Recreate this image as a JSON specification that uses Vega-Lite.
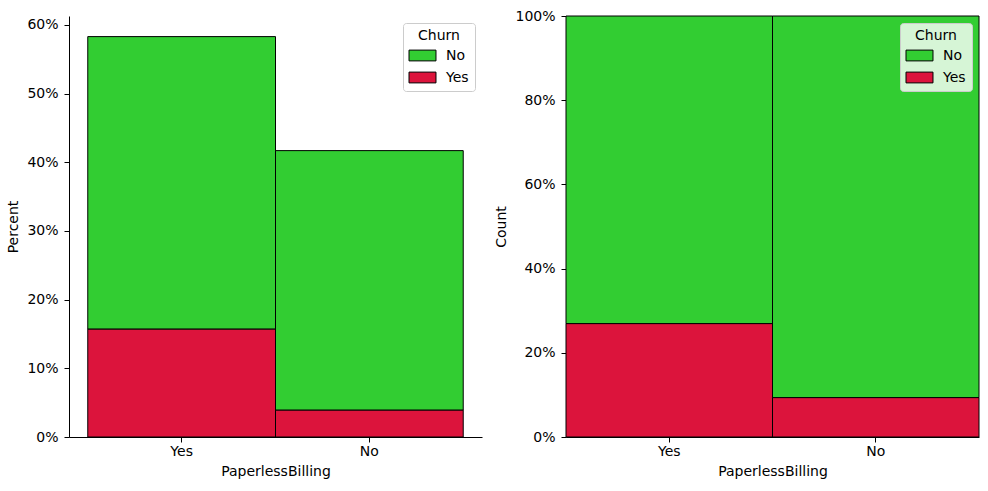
{
  "$schema": "https://vega.github.io/schema/vega-lite/v6.json",
  "autosize": {"type": "pad"},
  "padding": {"left": 6, "top": 9, "right": 9, "bottom": 5},
  "bounds": "flush",
  "spacing": 84,
  "data": {"values": [
    {"PaperlessBilling": "Yes", "Churn": "No", "share": 0.426},
    {"PaperlessBilling": "Yes", "Churn": "Yes", "share": 0.157},
    {"PaperlessBilling": "No", "Churn": "No", "share": 0.378},
    {"PaperlessBilling": "No", "Churn": "Yes", "share": 0.039}
  ]},
  "hconcat": [
    {
      "width": 413,
      "height": 421,
      "mark": {"type": "bar", "stroke": "black", "strokeWidth": 1, "opacity": 1},
      "encoding": {
        "x": {"field": "PaperlessBilling", "type": "nominal", "sort": ["Yes", "No"],
              "scale": {"paddingInner": 0, "paddingOuter": 0.1},
              "axis": {"title": "PaperlessBilling", "labelAngle": 0, "labelPadding": 2}},
        "y": {"field": "share", "type": "quantitative", "aggregate": "sum", "stack": "zero",
              "scale": {"domain": [0, 0.613], "nice": false},
              "axis": {"title": "Percent", "format": ".0%", "values": [0, 0.1, 0.2, 0.3, 0.4, 0.5, 0.6]}},
        "color": {"field": "Churn", "type": "nominal",
                  "scale": {"domain": ["No", "Yes"], "range": ["#32CD32", "#DC143C"]},
                  "legend": {"title": "Churn", "orient": "top-right", "offset": 7,
                             "fillColor": "rgba(255,255,255,0.8)"}},
        "order": {"field": "Churn", "sort": "descending"}
      }
    },
    {
      "width": 413,
      "height": 421,
      "mark": {"type": "bar", "stroke": "black", "strokeWidth": 1, "opacity": 1},
      "encoding": {
        "x": {"field": "PaperlessBilling", "type": "nominal", "sort": ["Yes", "No"],
              "scale": {"paddingInner": 0, "paddingOuter": 0},
              "axis": {"title": "PaperlessBilling", "labelAngle": 0, "labelPadding": 2}},
        "y": {"field": "share", "type": "quantitative", "aggregate": "sum", "stack": "normalize",
              "scale": {"domain": [0, 1], "nice": false},
              "axis": {"title": "Count", "format": ".0%", "values": [0, 0.2, 0.4, 0.6, 0.8, 1]}},
        "color": {"field": "Churn", "type": "nominal",
                  "scale": {"domain": ["No", "Yes"], "range": ["#32CD32", "#DC143C"]},
                  "legend": {"title": "Churn", "orient": "top-right", "offset": 7,
                             "fillColor": "rgba(255,255,255,0.8)"}},
        "order": {"field": "Churn", "sort": "descending"}
      }
    }
  ],
  "resolve": {"scale": {"color": "independent", "y": "independent"}, "legend": {"color": "independent"}},
  "config": {
    "view": {"stroke": null},
    "font": "DejaVu Sans",
    "axis": {
      "grid": false,
      "domainColor": "black", "domainWidth": 1,
      "tickColor": "black", "tickWidth": 1, "tickSize": 5,
      "labelColor": "black", "labelFontSize": 14, "labelPadding": 6,
      "titleColor": "black", "titleFontSize": 14, "titleFontWeight": "normal", "titlePadding": 6
    },
    "legend": {
      "titleFontSize": 14, "titleFontWeight": "normal", "titleColor": "black",
      "titleAnchor": "middle", "titleAlign": "center", "titlePadding": 5,
      "labelFontSize": 14, "labelColor": "black", "labelOffset": 16,
      "symbolType": "M-2,-0.8H2V0.8H-2Z", "symbolSize": 182, "symbolOffset": 6,
      "symbolStrokeColor": "black", "symbolStrokeWidth": 1, "symbolOpacity": 1,
      "strokeColor": "#cccccc", "cornerRadius": 3, "padding": 6, "rowPadding": 7
    }
  }
}
